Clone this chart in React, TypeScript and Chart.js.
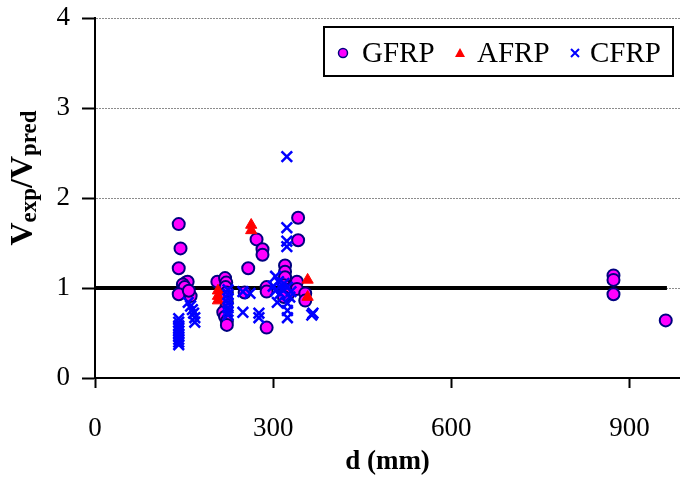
import React, { useEffect, useRef } from "react";
import { Chart, registerables } from "chart.js";

Chart.register(...registerables);

// ---- data (d in mm, V = Vexp/Vpred) ----
const gfrpD = [141, 144, 141, 153, 156, 148, 151, 141, 161, 158, 206, 219, 221, 220, 222, 220, 222, 221, 216, 219, 222, 222, 252, 258, 272, 282, 282, 289, 289, 289, 320, 320, 320, 318, 322, 325, 318, 342, 342, 340, 340, 354, 354, 873, 873, 873, 961];
const gfrpV = [1.71, 1.44, 1.22, 1.06, 1.07, 1.04, 1.01, 0.93, 0.91, 0.97, 1.07, 1.11, 1.06, 1.01, 0.95, 0.9, 0.84, 0.78, 0.73, 0.68, 0.63, 0.59, 0.95, 1.22, 1.54, 1.43, 1.37, 1.01, 0.96, 0.56, 1.25, 1.18, 1.12, 1.03, 0.98, 0.93, 0.9, 1.78, 1.53, 1.07, 0.99, 0.94, 0.86, 1.14, 1.09, 0.93, 0.64];

const afrpD = [207, 207, 207, 263, 263, 358, 358];
const afrpV = [0.97, 0.91, 0.86, 1.7, 1.64, 1.09, 0.9];

const cfrpD = [141, 141, 141, 141, 141, 141, 141, 141, 141, 141, 157, 161, 164, 166, 168, 168, 224, 224, 224, 224, 224, 224, 224, 249, 249, 261, 276, 276, 304, 309, 318, 324, 304, 312, 307, 324, 324, 324, 315, 300, 330, 328, 323, 323, 323, 323, 365, 367];
const cfrpV = [0.66, 0.62, 0.58, 0.55, 0.52, 0.49, 0.46, 0.43, 0.4, 0.37, 0.84, 0.8, 0.76, 0.72, 0.67, 0.62, 0.98, 0.93, 0.88, 0.83, 0.78, 0.74, 0.7, 0.96, 0.73, 0.94, 0.72, 0.67, 1.13, 1.07, 1.05, 1.01, 0.97, 0.94, 0.84, 0.83, 0.75, 0.67, 0.99, 1.02, 0.96, 0.9, 2.46, 1.67, 1.52, 1.46, 0.7, 0.72];

const refD = [0, 963];
const refV = [1, 1];

const xTicks = [0, 300, 600, 900];
const yTicks = [0, 1, 2, 3, 4];
const seriesNames = ["GFRP", "AFRP", "CFRP"];
const xTitle = "d (mm)";

const SERIF = "'Liberation Serif', 'Times New Roman', serif";

const toPts = (d: number[], v: number[]) => d.map((x, i) => ({ x, y: v[i] }));

const yTitlePlugin = {
  id: "yTitle",
  afterDraw(chart: any) {
    const ctx = chart.ctx;
    const parts = [
      { t: "V", sub: false },
      { t: "exp", sub: true },
      { t: "/", sub: false },
      { t: "V", sub: false },
      { t: "pred", sub: true },
    ];
    const mainFont = `bold 32px ${SERIF}`;
    const subFont = `bold 23px ${SERIF}`;
    ctx.save();
    let total = 0;
    const widths = parts.map((p) => {
      ctx.font = p.sub ? subFont : mainFont;
      const w = ctx.measureText(p.t).width;
      total += w;
      return w;
    });
    const cx = 22;
    const cy = 178;
    ctx.translate(cx, cy);
    ctx.rotate(-Math.PI / 2);
    ctx.fillStyle = "#000";
    ctx.textBaseline = "alphabetic";
    ctx.textAlign = "left";
    let x = -total / 2;
    parts.forEach((p, i) => {
      ctx.font = p.sub ? subFont : mainFont;
      ctx.fillText(p.t, x, p.sub ? 14 : 10);
      x += widths[i];
    });
    ctx.restore();
  },
};

const legendPlugin = {
  id: "boxLegend",
  afterDraw(chart: any) {
    const ctx = chart.ctx;
    const bx = 324, by = 27, bw = 349, bh = 49;
    ctx.save();
    ctx.fillStyle = "#fff";
    ctx.fillRect(bx, by, bw, bh);
    ctx.strokeStyle = "#000";
    ctx.lineWidth = 2;
    ctx.strokeRect(bx, by, bw, bh);
    const my = 53;
    ctx.beginPath();
    ctx.arc(343, my, 4.5, 0, Math.PI * 2);
    ctx.fillStyle = "#FF00FF";
    ctx.fill();
    ctx.strokeStyle = "#000080";
    ctx.lineWidth = 1.5;
    ctx.stroke();
    ctx.beginPath();
    ctx.moveTo(460, my - 5);
    ctx.lineTo(465, my + 4);
    ctx.lineTo(455, my + 4);
    ctx.closePath();
    ctx.fillStyle = "#FF0000";
    ctx.fill();
    ctx.beginPath();
    ctx.moveTo(571, my - 4);
    ctx.lineTo(579, my + 4);
    ctx.moveTo(579, my - 4);
    ctx.lineTo(571, my + 4);
    ctx.strokeStyle = "#0000FF";
    ctx.lineWidth = 2;
    ctx.stroke();
    ctx.fillStyle = "#000";
    ctx.font = `29px ${SERIF}`;
    ctx.textBaseline = "middle";
    ctx.textAlign = "left";
    const xs = [362, 477, 590];
    seriesNames.forEach((n, i) => ctx.fillText(n, xs[i], my + 1));
    ctx.restore();
  },
};

export default function App() {
  const ref = useRef<HTMLCanvasElement | null>(null);
  useEffect(() => {
    if (!ref.current) return;
    const chart = new Chart(ref.current, {
      type: "scatter",
      data: {
        datasets: [
          {
            type: "line",
            label: "ref",
            data: toPts(refD, refV),
            borderColor: "#000",
            borderWidth: 4,
            pointRadius: 0,
            showLine: true,
            order: 4,
          } as any,
          {
            label: seriesNames[0],
            data: toPts(gfrpD, gfrpV),
            pointStyle: "circle",
            pointRadius: 6,
            backgroundColor: "#FF00FF",
            borderColor: "#000080",
            borderWidth: 2,
            order: 3,
          },
          {
            label: seriesNames[1],
            data: toPts(afrpD, afrpV),
            pointStyle: "triangle",
            pointRadius: 6.5,
            backgroundColor: "#FF0000",
            borderColor: "#FF0000",
            borderWidth: 1,
            order: 2,
          },
          {
            label: seriesNames[2],
            data: toPts(cfrpD, cfrpV),
            pointStyle: "crossRot",
            pointRadius: 7.5,
            backgroundColor: "#0000FF",
            borderColor: "#0000FF",
            borderWidth: 2.5,
            order: 1,
          },
        ],
      },
      options: {
        animation: false,
        responsive: true,
        maintainAspectRatio: false,
        layout: { autoPadding: false, padding: { top: 18, right: 0, left: 0, bottom: 0 } },
        plugins: {
          legend: { display: false },
          tooltip: { enabled: false },
        },
        scales: {
          x: {
            type: "linear",
            min: 0,
            max: 985,
            afterBuildTicks: (s: any) => {
              s.ticks = xTicks.map((v) => ({ value: v }));
            },
            afterFit: (s: any) => {
              s.height = 103;
              s.paddingLeft = 0;
              s.paddingRight = 0;
            },
            ticks: {
              color: "#000",
              font: { family: SERIF, size: 27 },
              padding: 25,
              maxRotation: 0,
              autoSkip: false,
            },
            grid: {
              drawOnChartArea: false,
              tickColor: "#000",
              tickLength: 10,
              tickWidth: 2,
              tickBorderDash: [],
            },
            border: { color: "#000", width: 2 },
            title: {
              display: true,
              text: xTitle,
              color: "#000",
              font: { family: SERIF, size: 27, weight: "bold" },
              padding: { top: 0, bottom: 3 },
            },
          },
          y: {
            type: "linear",
            min: 0,
            max: 4,
            afterBuildTicks: (s: any) => {
              s.ticks = yTicks.map((v) => ({ value: v }));
            },
            afterFit: (s: any) => {
              s.width = 95;
              s.paddingTop = 0;
              s.paddingBottom = 0;
            },
            ticks: {
              color: "#000",
              font: { family: SERIF, size: 27 },
              padding: 12,
            },
            grid: {
              color: (c: any) => (c.tick && c.tick.value === 0 ? "rgba(0,0,0,0)" : "#8c8c8c"),
              lineWidth: 1,
              tickColor: "#000",
              tickLength: 13,
              tickWidth: 2,
              tickBorderDash: [],
            },
            border: { color: "#000", width: 2, dash: [2, 1] },
          },
        },
      },
      plugins: [yTitlePlugin, legendPlugin],
    });
    return () => chart.destroy();
  }, []);
  return (
    <div style={{ position: "absolute", left: 0, top: 0, width: 680, height: 481, background: "#fff" }}>
      <canvas ref={ref} />
    </div>
  );
}
